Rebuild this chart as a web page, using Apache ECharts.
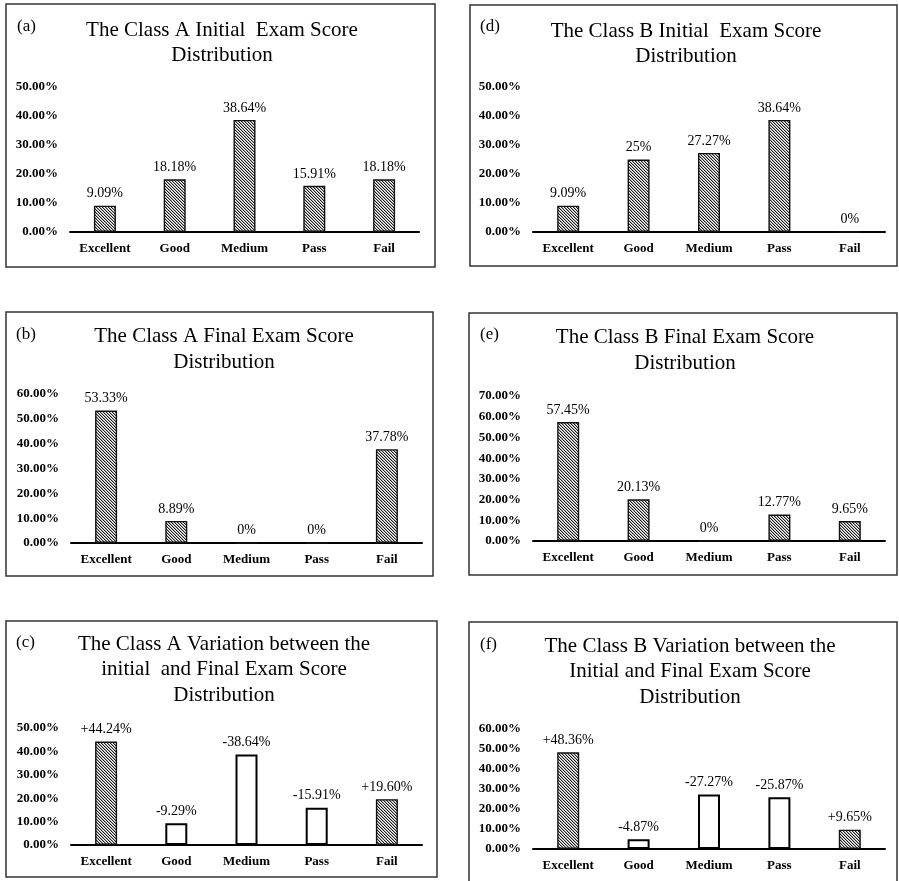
<!DOCTYPE html>
<html>
<head>
<meta charset="utf-8">
<title>Exam Score Distribution</title>
<script src="https://cdn.jsdelivr.net/npm/echarts@6/dist/echarts.min.js"></script>
<style>
  html, body { margin: 0; padding: 0; background: #ffffff; }
  #chart { width: 899px; height: 881px; }
</style>
</head>
<body>
<div id="chart"></div>
<script>
// Score bands shared by every panel
const categories = ['Excellent', 'Good', 'Medium', 'Pass', 'Fail'];

// Class A (percent of students per band)
const classAInitial = [9.09, 18.18, 38.64, 15.91, 18.18];
const classAFinal = [53.33, 8.89, 0, 0, 37.78];
const classAChange = [44.24, -9.29, -38.64, -15.91, 19.60];

// Class B (percent of students per band)
const classBInitial = [9.09, 25, 27.27, 38.64, 0];
const classBFinal = [57.45, 20.13, 0, 12.77, 9.65];
const classBChange = [48.36, -4.87, -27.27, -25.87, 9.65];

// Value-axis ranges per panel
const axisMaxA = [50, 60, 50];
const axisMaxB = [50, 70, 60];
const axisStep = 10;

const SERIF = '"Liberation Serif", "Times New Roman", serif';

// Fine diagonal hatch used for the filled bars
function makeHatch() {
  const c = document.createElement('canvas');
  c.width = 3; c.height = 3;
  const g = c.getContext('2d');
  g.fillStyle = '#ffffff';
  g.fillRect(0, 0, 3, 3);
  for (let i = 0; i < 3; i++) {
    g.fillStyle = '#1e1e1e';
    g.fillRect(i, i, 1, 1);
    g.fillStyle = '#a8a8a8';
    g.fillRect((i + 1) % 3, i, 1, 1);
  }
  return c;
}
const hatch = { image: makeHatch(), repeat: 'repeat' };

// Panel layout: frame box, plot grid, heading position
const panels = [
  { tag: '(a)', title: 'The Class A Initial  Exam Score\nDistribution',
    values: classAInitial, change: false, max: axisMaxA[0],
    box: [6, 4, 435, 267], grid: { left: 70, top: 87, width: 349, height: 145 },
    titleX: 222, titleTop: 17.5, lh: 25, tagX: 17, tagY: 27 },
  { tag: '(b)', title: 'The Class A Final Exam Score\nDistribution',
    values: classAFinal, change: false, max: axisMaxA[1],
    box: [6, 312, 433, 576], grid: { left: 71, top: 394, width: 351, height: 149 },
    titleX: 224, titleTop: 323.5, lh: 26, tagX: 16, tagY: 335 },
  { tag: '(c)', title: 'The Class A Variation between the\ninitial  and Final Exam Score\nDistribution',
    values: classAChange, change: true, max: axisMaxA[2],
    box: [6, 621, 437, 877], grid: { left: 71, top: 728, width: 351, height: 117 },
    titleX: 224, titleTop: 631.5, lh: 25.5, tagX: 16, tagY: 643 },
  { tag: '(d)', title: 'The Class B Initial  Exam Score\nDistribution',
    values: classBInitial, change: false, max: axisMaxB[0],
    box: [470, 5, 897, 266], grid: { left: 533, top: 87, width: 352, height: 145 },
    titleX: 686, titleTop: 18.5, lh: 25, tagX: 480, tagY: 27 },
  { tag: '(e)', title: 'The Class B Final Exam Score\nDistribution',
    values: classBFinal, change: false, max: axisMaxB[1],
    box: [469, 313, 897, 575], grid: { left: 533, top: 396, width: 352, height: 145 },
    titleX: 685, titleTop: 324.5, lh: 26, tagX: 480, tagY: 335 },
  { tag: '(f)', title: 'The Class B Variation between the\nInitial and Final Exam Score\nDistribution',
    values: classBChange, change: true, max: axisMaxB[2],
    box: [469, 622, 897, 890], grid: { left: 533, top: 729, width: 352, height: 120 },
    titleX: 690, titleTop: 633.5, lh: 25.5, tagX: 480, tagY: 645 }
];

function distLabel(v) {
  return (Number.isInteger(v) ? String(v) : v.toFixed(2)) + '%';
}
function changeLabel(v) {
  return (v >= 0 ? '+' : '-') + Math.abs(v).toFixed(2) + '%';
}

const grids = [], xAxes = [], yAxes = [], series = [], graphics = [];

panels.forEach((p, i) => {
  grids.push(Object.assign({ containLabel: false }, p.grid));

  xAxes.push({
    type: 'category', gridIndex: i, data: categories,
    axisLine: { show: true, lineStyle: { color: '#000000', width: 2 } },
    axisTick: { show: false },
    axisLabel: { color: '#000000', fontFamily: SERIF, fontWeight: 'bold', fontSize: 13, margin: 10 }
  });

  yAxes.push({
    type: 'value', gridIndex: i, min: 0, max: p.max, interval: axisStep,
    axisLine: { show: false }, axisTick: { show: false }, splitLine: { show: false },
    axisLabel: {
      color: '#000000', fontFamily: SERIF, fontWeight: 'bold', fontSize: 13, margin: 12,
      formatter: v => v.toFixed(2) + '%'
    }
  });

  series.push({
    type: 'bar', xAxisIndex: i, yAxisIndex: i, barWidth: 22,
    data: p.values.map(v => {
      const hatched = !p.change || v >= 0;
      return {
        value: p.change ? Math.abs(v) : v,
        raw: v,
        itemStyle: hatched
          ? { color: hatch, borderColor: '#111111', borderWidth: 1.4 }
          : { color: '#ffffff', borderColor: '#000000', borderWidth: 2 }
      };
    }),
    label: {
      show: true, position: 'top', distance: 5,
      color: '#000000', fontFamily: SERIF, fontSize: 14,
      formatter: prm => p.change ? changeLabel(prm.data.raw) : distLabel(prm.data.raw)
    },
    emphasis: { disabled: true },
    animation: false
  });

  const [x1, y1, x2, y2] = p.box;
  graphics.push({
    type: 'rect', silent: true,
    shape: { x: x1, y: y1, width: x2 - x1, height: y2 - y1 },
    style: { fill: 'none', stroke: '#333333', lineWidth: 1.5 }
  });
  graphics.push({
    type: 'text', silent: true,
    style: {
      text: p.title, x: p.titleX, y: p.titleTop, align: 'center', verticalAlign: 'top',
      fontFamily: SERIF, fontSize: 21, lineHeight: p.lh, fill: '#000000'
    }
  });
  graphics.push({
    type: 'text', silent: true,
    style: {
      text: p.tag, x: p.tagX, y: p.tagY, align: 'left', verticalAlign: 'middle',
      fontFamily: SERIF, fontSize: 17, fill: '#000000'
    }
  });
});

const chart = echarts.init(document.getElementById('chart'), null, { renderer: 'canvas' });
chart.setOption({
  backgroundColor: '#ffffff',
  animation: false,
  grid: grids,
  xAxis: xAxes,
  yAxis: yAxes,
  series: series,
  graphic: graphics
});
</script>
</body>
</html>
